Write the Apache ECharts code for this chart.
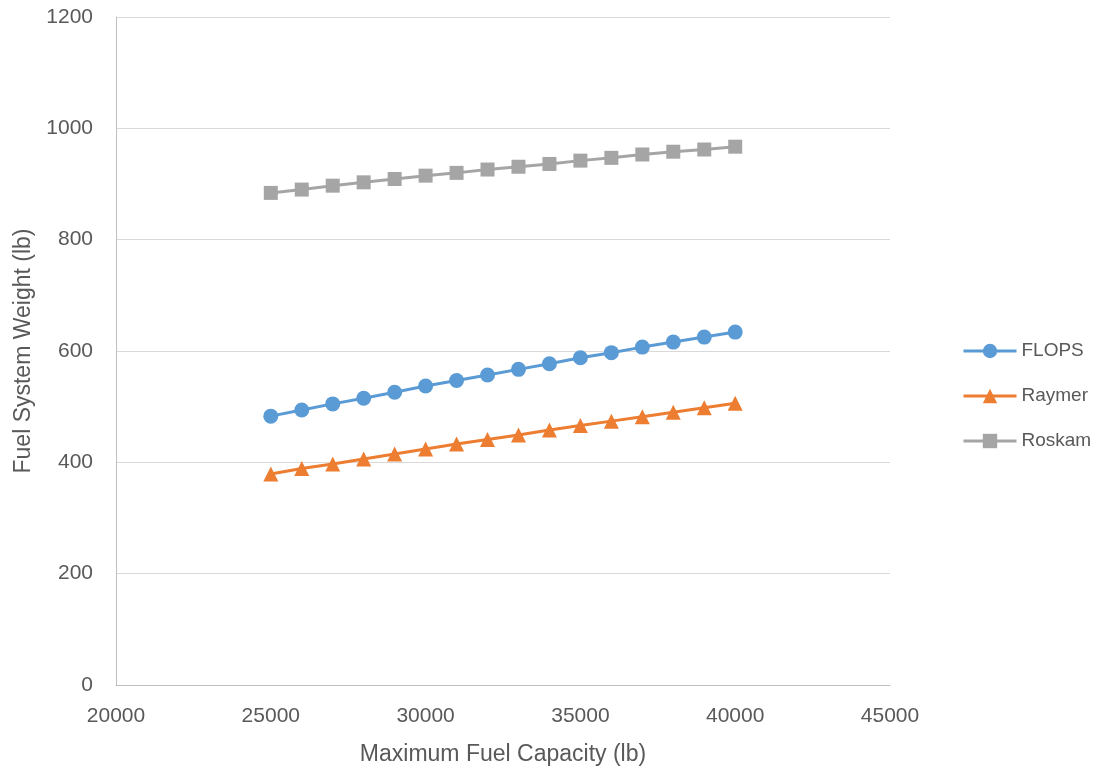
<!DOCTYPE html>
<html>
<head>
<meta charset="utf-8">
<script src="https://cdn.jsdelivr.net/npm/echarts@6/dist/echarts.min.js"></script>
<style>
html,body{margin:0;padding:0;background:#fff;}
#chart{width:1102px;height:772px;}
</style>
</head>
<body>
<div id="chart"></div>
<script>
const fuelCapacity = [25000, 26000, 27000, 28000, 29000, 30000, 31000, 32000, 33000, 34000, 35000, 36000, 37000, 38000, 39000, 40000];
const flops  = [483, 494, 505, 515, 526, 537, 547, 557, 567, 577, 588, 597, 607, 616, 625, 634];
const raymer = [379, 389, 397, 406, 415, 424, 433, 441, 449, 458, 466, 474, 482, 490, 498, 506];
const roskam = [884, 890, 897, 903, 909, 915, 920, 926, 931, 936, 942, 947, 953, 958, 962, 967];
const seriesNames = ['FLOPS', 'Raymer', 'Roskam'];
const xAxisTitle = 'Maximum Fuel Capacity (lb)';
const yAxisTitle = 'Fuel System Weight (lb)';

const FONT = '"Liberation Sans", Arial, sans-serif';
const TXT = '#595959';

function pairs(ys) { return fuelCapacity.map((x, i) => [x, ys[i]]); }

function mkSeries(name, ys, color, symbol, size) {
  return {
    name: name,
    type: 'line',
    data: pairs(ys),
    symbol: symbol,
    symbolSize: size,
    lineStyle: { color: color, width: 3 },
    itemStyle: { color: color },
    z: 3
  };
}

const chart = echarts.init(document.getElementById('chart'), null, { renderer: 'canvas' });
chart.setOption({
  animation: false,
  backgroundColor: '#ffffff',
  textStyle: { fontFamily: FONT },
  grid: { left: 116, right: 212, top: 17, bottom: 87, containLabel: false },
  xAxis: {
    type: 'value',
    min: 20000, max: 45000, interval: 5000,
    name: xAxisTitle,
    nameLocation: 'middle',
    nameGap: 58,
    nameTextStyle: { color: TXT, fontSize: 23, fontFamily: FONT },
    axisLine: { show: true, lineStyle: { color: '#bfbfbf', width: 1 } },
    axisTick: { show: false },
    splitLine: { show: false },
    axisLabel: { color: TXT, fontSize: 21, margin: 21, fontFamily: FONT, formatter: v => String(v) }
  },
  yAxis: {
    type: 'value',
    min: 0, max: 1200, interval: 200,
    name: yAxisTitle,
    nameLocation: 'middle',
    nameGap: 78,
    nameTextStyle: { color: TXT, fontSize: 23, fontFamily: FONT },
    axisLine: { show: true, lineStyle: { color: '#bfbfbf', width: 1 } },
    axisTick: { show: false },
    splitLine: { show: true, lineStyle: { color: '#d9d9d9', width: 1 } },
    axisLabel: { color: TXT, fontSize: 21, margin: 23, fontFamily: FONT, formatter: v => String(v) }
  },
  legend: {
    orient: 'vertical',
    left: 962,
    top: 340,
    padding: 0,
    itemWidth: 53,
    itemHeight: 18,
    itemGap: 23,
    lineStyle: { width: 3 },
    textStyle: { color: TXT, fontSize: 19, fontFamily: FONT, lineHeight: 22 },
    data: seriesNames
  },
  series: [
    mkSeries(seriesNames[0], flops, '#5b9bd5', 'circle', 15),
    mkSeries(seriesNames[1], raymer, '#ed7d31', 'triangle', 15),
    mkSeries(seriesNames[2], roskam, '#a5a5a5', 'rect', 14)
  ]
});
</script>
</body>
</html>
